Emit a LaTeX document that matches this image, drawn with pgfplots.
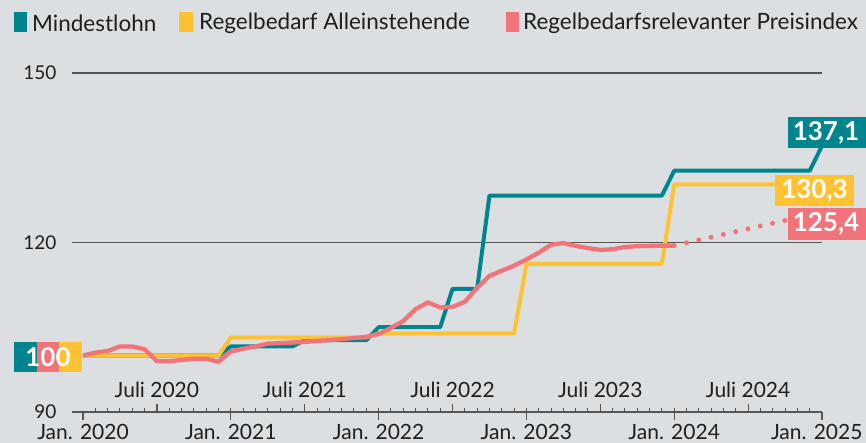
\documentclass[border=0pt]{standalone}
\usepackage{fontspec}
\setmainfont{Lato}
\usepackage{pgfplots}
\pgfplotsset{compat=1.18}
\usetikzlibrary{backgrounds}

\definecolor{bg}{HTML}{DCDFE2}
\definecolor{mteal}{HTML}{00858F}
\definecolor{myellow}{HTML}{FFC233}
\definecolor{mpink}{HTML}{F2737A}
\definecolor{axgray}{HTML}{555555}
\definecolor{txt}{HTML}{1E1E1E}

% months counted from Jan. 2020 (= 0), index Jan. 2020 = 100
\pgfplotstableread{
m   v
0   100.0
1   100.5
2   100.8
3   101.6
4   101.6
5   101.1
6   99.0
7   99.0
8   99.2
9   99.4
10  99.4
11  98.9
12  100.7
13  101.2
14  101.6
15  102.1
16  102.2
17  102.3
18  102.4
19  102.6
20  102.7
21  102.9
22  103.1
23  103.3
24  103.8
25  104.9
26  106.1
27  108.2
28  109.4
29  108.5
30  108.6
31  109.5
32  112.0
33  114.1
34  115.0
35  115.9
36  117.0
37  118.2
38  119.6
39  119.9
40  119.4
41  119.0
42  118.7
43  118.8
44  119.2
45  119.35
46  119.4
47  119.45
48  119.45
}\preisindex

\tikzset{ticklab/.style={font=\fontsize{21}{23}\selectfont, text=txt},
         ylab/.style={font=\fontsize{19}{21}\selectfont, text=txt, anchor=east}}

\begin{document}
\begin{tikzpicture}
\begin{axis}[
  scale only axis, width=750pt, height=339pt,
  xmin=-0.894, xmax=60, ymin=90, ymax=150,
  hide axis, clip=false,
]
\coordinate (O) at (axis cs:-0.894,90);
% grid and axis
\draw[axgray, line width=1.3pt] (axis cs:-0.894,150) -- (axis cs:60,150);
\draw[axgray, line width=1.3pt] (axis cs:-0.894,120) -- (axis cs:60,120);
\draw[axgray, line width=2pt] (axis cs:-0.894,90) -- (axis cs:60,90);
\pgfplotsinvokeforeach{1,...,59}{\draw[axgray, line width=1pt] (axis cs:#1,90) -- ++(0pt,4pt);}
\pgfplotsinvokeforeach{6,18,30,42,54}{\draw[axgray, line width=1.2pt] (axis cs:#1,90) -- ++(0pt,8pt);}
\pgfplotsinvokeforeach{0,12,24,36,48,60}{\draw[axgray, line width=1.2pt] (axis cs:#1,90) -- ++(0pt,-8pt);}

\node[ylab] at (axis cs:-0.894,150) [xshift=-12pt] {150};
\node[ylab] at (axis cs:-0.894,120) [xshift=-12pt] {120};
\node[ylab] at (axis cs:-0.894,90) [xshift=-12pt] {90};

\node[ticklab] at (axis cs:6,90) [yshift=22pt] {Juli 2020};
\node[ticklab] at (axis cs:18,90) [yshift=22pt] {Juli 2021};
\node[ticklab] at (axis cs:30,90) [yshift=22pt] {Juli 2022};
\node[ticklab] at (axis cs:42,90) [yshift=22pt] {Juli 2023};
\node[ticklab] at (axis cs:54,90) [yshift=22pt] {Juli 2024};
\node[ticklab] at (axis cs:0,90) [yshift=-19.5pt] {Jan. 2020};
\node[ticklab] at (axis cs:12,90) [yshift=-19.5pt] {Jan. 2021};
\node[ticklab] at (axis cs:24,90) [yshift=-19.5pt] {Jan. 2022};
\node[ticklab] at (axis cs:36,90) [yshift=-19.5pt] {Jan. 2023};
\node[ticklab] at (axis cs:48,90) [yshift=-19.5pt] {Jan. 2024};
\node[ticklab, anchor=east] at (axis cs:60,90) [yshift=-19.5pt, xshift=44pt] {Jan. 2025};

% series
\addplot[mteal, line width=4pt, line join=round] coordinates {
  (0,100) (11,100) (12,101.6) (17,101.6) (18,102.7) (23,102.7)
  (24,105.0) (29,105.0) (30,111.8) (32,111.8) (33,128.3) (47,128.3)
  (48,132.7) (59,132.7) (60,137.1)};
\addplot[myellow, line width=4pt, line join=round] coordinates {
  (0,100) (11,100) (12,103.2) (23,103.2) (24,103.9) (35,103.9)
  (36,116.2) (47,116.2) (48,130.3) (60,130.3)};
\addplot[mpink, line width=4.3pt, line join=round] table[x=m, y=v] {\preisindex};
\addplot[mpink, line width=5pt, line cap=round, dash pattern=on 0pt off 12.6pt] coordinates {
  (48,119.45) (60,125.4)};
\end{axis}

% everything else in pixel-like units, origin = image bottom-left
\begin{scope}[shift={(O)}, xshift=-72pt, yshift=-31pt, x=1pt, y=1pt]
\begin{scope}[on background layer]
\fill[bg] (0,0) rectangle (866,443);
\end{scope}

% legend
\fill[mteal] (14,411) rectangle (27,431);
\node[anchor=west, font=\fontsize{22.5}{24}\selectfont, text=txt, inner sep=0] at (32,420) {Mindestlohn};
\fill[myellow] (179,411) rectangle (193,431);
\node[anchor=west, font=\fontsize{22.5}{24}\selectfont, text=txt, inner sep=0] at (199,420) {Regelbedarf Alleinstehende};
\fill[mpink] (506,411) rectangle (519,431);
\node[anchor=west, font=\fontsize{22.5}{24}\selectfont, text=txt, inner sep=0] at (523,420) {Regelbedarfsrelevanter Preisindex};

% value labels
\fill[mteal] (14,71) rectangle (37,101);
\fill[mpink] (37,71) rectangle (59,101);
\fill[myellow] (59,71) rectangle (82,101);
\node[text=white, font=\fontsize{26}{28}\selectfont\bfseries] at (48,86) {100};

\fill[mteal] (788,295) rectangle (866,326);
\node[text=white, font=\fontsize{26}{28}\selectfont\bfseries] at (826,310.5) {137,1};
\fill[myellow] (775,237) rectangle (854,268);
\node[text=white, font=\fontsize{26}{28}\selectfont\bfseries] at (814.5,252.5) {130,3};
\fill[mpink] (788,203) rectangle (866,235);
\node[text=white, font=\fontsize{26}{28}\selectfont\bfseries] at (826,219) {125,4};

\pgfresetboundingbox
\path[use as bounding box] (0,0) rectangle (866,443);
\end{scope}
\end{tikzpicture}
\end{document}
